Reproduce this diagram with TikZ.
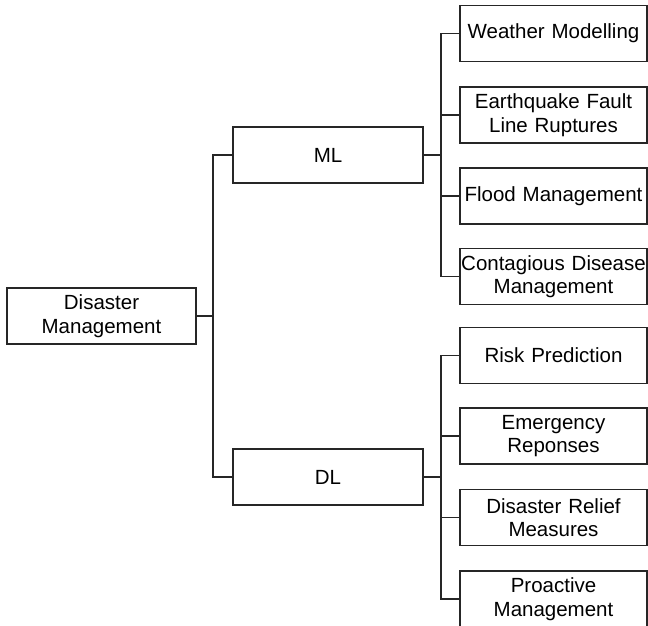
\documentclass[tikz,border=0pt]{standalone}
\usepackage{fontspec}
\setmainfont{Liberation Sans}
\begin{document}
\begin{tikzpicture}[x=1pt,y=-1pt,
  box/.style={draw=black!85, line width=1.8pt, rectangle, inner xsep=0pt, inner ysep=0pt,
    outer sep=0pt, align=center, minimum height=56pt,
    font=\fontsize{20.5}{23.5}\selectfont},
  rootbox/.style={box, text width=189pt},
  midbox/.style={box, text width=190pt},
  leafbox/.style={box, text width=187pt},
  link/.style={draw=black!85, line width=1.8pt}]
\useasboundingbox (0,0) rectangle (648,626);

% root
\node[rootbox] (dm) at (101.5,316) {Disaster\\Management};

% second level
\node[midbox] (ml) at (328,155) {ML};
\node[midbox] (dl) at (328,477) {DL};

% ML branch
\node[leafbox] (wm) at (553.5,33.5) {Weather Modelling};
\node[leafbox] (eq) at (553.5,115) {Earthquake Fault\\Line Ruptures};
\node[leafbox] (fm) at (553.5,196) {Flood Management};
\node[leafbox] (cd) at (553.5,276.5) {Contagious Disease\\Management};

% DL branch
\node[leafbox] (rp) at (553.5,355.5) {Risk Prediction};
\node[leafbox] (er) at (553.5,436) {Emergency\\Reponses};
\node[leafbox] (dr) at (553.5,517.5) {Disaster Relief\\Measures};
\node[leafbox] (pm) at (553.5,599) {Proactive\\Management};

% root to second level
\draw[link] (dm.east) -- ++(17,0);
\draw[link] (ml.west) -- ++(-20,0) |- (dl.west);

% ML to its children
\draw[link] (ml.east) -- ++(18,0);
\draw[link] (wm.west) -- ++(-19,0) |- (cd.west);
\draw[link] (eq.west) -- ++(-19,0);
\draw[link] (fm.west) -- ++(-19,0);

% DL to its children
\draw[link] (dl.east) -- ++(19,0);
\draw[link] (rp.west) -- ++(-19,0) |- (pm.west);
\draw[link] (er.west) -- ++(-19,0);
\draw[link] (dr.west) -- ++(-19,0);
\end{tikzpicture}
\end{document}
